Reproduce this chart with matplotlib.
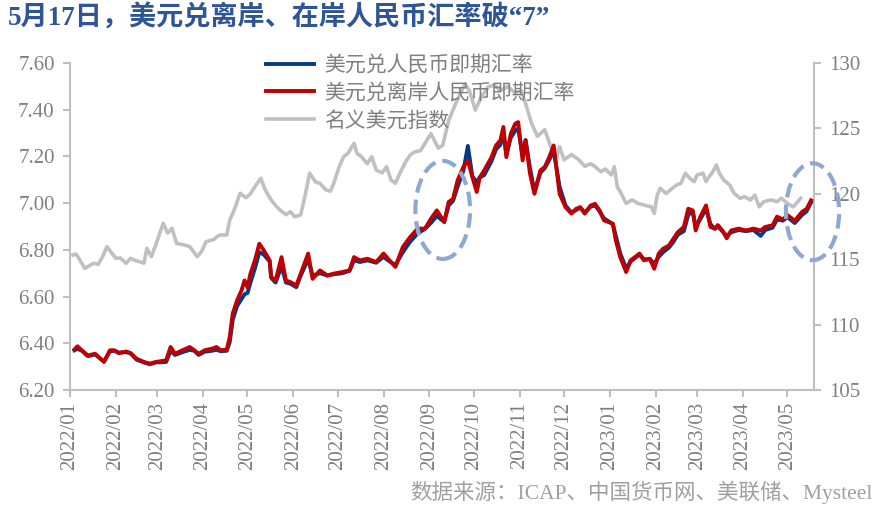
import matplotlib
matplotlib.use('Agg')
import matplotlib.pyplot as plt
import matplotlib.dates as mdates
from matplotlib.patches import Ellipse
import pandas as pd
import numpy as np

plt.rcParams['font.family'] = ['Liberation Serif', 'Noto Sans CJK SC']

# ---- data ----
cny_dates = ['2022-01-04', '2022-01-06', '2022-01-09', '2022-01-13', '2022-01-18', '2022-01-24',
             '2022-01-28', '2022-01-31', '2022-02-03', '2022-02-08', '2022-02-11', '2022-02-15',
             '2022-02-20', '2022-02-24', '2022-02-28', '2022-03-07', '2022-03-10', '2022-03-13',
             '2022-03-18', '2022-03-23', '2022-03-26', '2022-03-29', '2022-04-02', '2022-04-07',
             '2022-04-10', '2022-04-13', '2022-04-17', '2022-04-19', '2022-04-21', '2022-04-24',
             '2022-04-27', '2022-04-29', '2022-05-01', '2022-05-03', '2022-05-06', '2022-05-09',
             '2022-05-12', '2022-05-16', '2022-05-17', '2022-05-20', '2022-05-24', '2022-05-27',
             '2022-05-30', '2022-06-03', '2022-06-06', '2022-06-11', '2022-06-14', '2022-06-19',
             '2022-06-24', '2022-06-28', '2022-07-04', '2022-07-09', '2022-07-12', '2022-07-16',
             '2022-07-21', '2022-07-27', '2022-08-01', '2022-08-04', '2022-08-09', '2022-08-14',
             '2022-08-19', '2022-08-24', '2022-08-29', '2022-09-02', '2022-09-06', '2022-09-11',
             '2022-09-14', '2022-09-17', '2022-09-20', '2022-09-24', '2022-09-27', '2022-09-30',
             '2022-10-03', '2022-10-05', '2022-10-08', '2022-10-13', '2022-10-16', '2022-10-19',
             '2022-10-21', '2022-10-23', '2022-10-26', '2022-10-29', '2022-10-31', '2022-11-03',
             '2022-11-05', '2022-11-08', '2022-11-11', '2022-11-15', '2022-11-18', '2022-11-21',
             '2022-11-24', '2022-11-28', '2022-12-02', '2022-12-06', '2022-12-09', '2022-12-12',
             '2022-12-15', '2022-12-19', '2022-12-22', '2022-12-25', '2022-12-28', '2023-01-03',
             '2023-01-05', '2023-01-08', '2023-01-12', '2023-01-15', '2023-01-18', '2023-01-21',
             '2023-01-24', '2023-01-28', '2023-01-31', '2023-02-03', '2023-02-06', '2023-02-10',
             '2023-02-13', '2023-02-16', '2023-02-20', '2023-02-23', '2023-02-26', '2023-02-28',
             '2023-03-03', '2023-03-07', '2023-03-10', '2023-03-13', '2023-03-15', '2023-03-18',
             '2023-03-21', '2023-03-24', '2023-03-29', '2023-04-03', '2023-04-08', '2023-04-13',
             '2023-04-16', '2023-04-21', '2023-04-24', '2023-04-28', '2023-05-01', '2023-05-06',
             '2023-05-11', '2023-05-14', '2023-05-17']

# 美元兑离岸人民币 (red)
cnh_rate = [6.373, 6.387, 6.370, 6.348, 6.355, 6.320,
            6.370, 6.370, 6.358, 6.365, 6.358, 6.334,
            6.320, 6.313, 6.320, 6.327, 6.384, 6.355,
            6.370, 6.384, 6.370, 6.355, 6.370, 6.377,
            6.384, 6.370, 6.373, 6.427, 6.527, 6.584,
            6.627, 6.669, 6.640, 6.698, 6.755, 6.826,
            6.798, 6.755, 6.684, 6.669, 6.769, 6.669,
            6.662, 6.648, 6.698, 6.784, 6.676, 6.712,
            6.690, 6.698, 6.705, 6.712, 6.769, 6.755,
            6.762, 6.748, 6.784, 6.762, 6.727, 6.812,
            6.855, 6.891, 6.891, 6.933, 6.969, 6.919,
            7.005, 7.019, 7.097, 7.155, 7.183, 7.112,
            7.048, 7.110, 7.140, 7.197, 7.247, 7.269,
            7.326, 7.197, 7.297, 7.340, 7.347, 7.183,
            7.269, 7.126, 7.040, 7.140, 7.155, 7.197,
            7.247, 7.040, 6.983, 6.955, 6.975, 6.983,
            6.955, 6.990, 6.997, 6.969, 6.926, 6.912,
            6.841, 6.769, 6.705, 6.755, 6.769, 6.784,
            6.755, 6.762, 6.719, 6.784, 6.805, 6.819,
            6.848, 6.876, 6.898, 6.976, 6.969, 6.883,
            6.940, 6.990, 6.898, 6.891, 6.906, 6.883,
            6.850, 6.883, 6.891, 6.883, 6.891, 6.883,
            6.898, 6.905, 6.942, 6.930, 6.949, 6.925,
            6.963, 6.975, 7.012]

# 美元兑人民币即期 (blue)
cny_rate = [6.370, 6.376, 6.368, 6.345, 6.352, 6.322,
            6.366, 6.368, 6.360, 6.362, 6.356, 6.330,
            6.318, 6.310, 6.318, 6.320, 6.368, 6.350,
            6.362, 6.372, 6.368, 6.350, 6.364, 6.368,
            6.372, 6.366, 6.368, 6.405, 6.500, 6.560,
            6.590, 6.610, 6.615, 6.660, 6.720, 6.790,
            6.780, 6.750, 6.680, 6.660, 6.730, 6.660,
            6.655, 6.640, 6.690, 6.760, 6.690, 6.700,
            6.690, 6.695, 6.700, 6.710, 6.755, 6.748,
            6.755, 6.745, 6.770, 6.755, 6.735, 6.790,
            6.835, 6.870, 6.890, 6.915, 6.945, 6.920,
            6.990, 7.010, 7.070, 7.140, 7.245, 7.115,
            7.090, 7.110, 7.120, 7.180, 7.230, 7.250,
            7.300, 7.210, 7.280, 7.310, 7.320, 7.200,
            7.270, 7.150, 7.050, 7.130, 7.150, 7.185,
            7.225, 7.070, 6.990, 6.960, 6.970, 6.980,
            6.960, 6.985, 6.990, 6.965, 6.935, 6.910,
            6.860, 6.785, 6.720, 6.750, 6.765, 6.780,
            6.760, 6.760, 6.740, 6.770, 6.790, 6.810,
            6.835, 6.865, 6.880, 6.950, 6.965, 6.900,
            6.930, 6.975, 6.910, 6.890, 6.900, 6.880,
            6.860, 6.875, 6.885, 6.880, 6.885, 6.860,
            6.885, 6.895, 6.930, 6.925, 6.940, 6.915,
            6.950, 6.965, 7.003]

# 名义美元指数 (grey, right axis)
usd_dates = ['2022-01-03', '2022-01-05', '2022-01-07', '2022-01-11', '2022-01-14', '2022-01-17',
             '2022-01-20', '2022-01-23', '2022-01-26', '2022-01-29', '2022-02-01', '2022-02-04',
             '2022-02-08', '2022-02-11', '2022-02-13', '2022-02-17', '2022-02-20', '2022-02-22',
             '2022-02-25', '2022-02-28', '2022-03-03', '2022-03-05', '2022-03-08', '2022-03-11',
             '2022-03-14', '2022-03-19', '2022-03-23', '2022-03-28', '2022-03-31', '2022-04-03',
             '2022-04-08', '2022-04-12', '2022-04-17', '2022-04-19', '2022-04-22', '2022-04-24',
             '2022-04-26', '2022-04-30', '2022-05-03', '2022-05-06', '2022-05-10', '2022-05-13',
             '2022-05-17', '2022-05-20', '2022-05-23', '2022-05-27', '2022-05-30', '2022-06-02',
             '2022-06-06', '2022-06-09', '2022-06-12', '2022-06-16', '2022-06-19', '2022-06-23',
             '2022-06-26', '2022-06-28', '2022-07-02', '2022-07-05', '2022-07-08', '2022-07-12',
             '2022-07-14', '2022-07-17', '2022-07-21', '2022-07-24', '2022-07-27', '2022-07-31',
             '2022-08-03', '2022-08-06', '2022-08-09', '2022-08-12', '2022-08-16', '2022-08-19',
             '2022-08-22', '2022-08-26', '2022-08-29', '2022-09-02', '2022-09-07', '2022-09-10',
             '2022-09-14', '2022-09-18', '2022-09-22', '2022-09-25', '2022-09-28', '2022-10-02',
             '2022-10-06', '2022-10-11', '2022-10-15', '2022-10-19', '2022-10-24', '2022-10-29',
             '2022-11-02', '2022-11-05', '2022-11-09', '2022-11-13', '2022-11-18', '2022-11-22',
             '2022-11-26', '2022-11-28', '2022-12-01', '2022-12-06', '2022-12-11', '2022-12-15',
             '2022-12-19', '2022-12-22', '2022-12-26', '2022-12-29', '2023-01-02', '2023-01-04',
             '2023-01-06', '2023-01-08', '2023-01-12', '2023-01-16', '2023-01-20', '2023-01-24',
             '2023-01-29', '2023-01-31', '2023-02-02', '2023-02-04', '2023-02-08', '2023-02-11',
             '2023-02-15', '2023-02-18', '2023-02-21', '2023-02-24', '2023-02-27', '2023-03-01',
             '2023-03-05', '2023-03-07', '2023-03-09', '2023-03-11', '2023-03-14', '2023-03-16',
             '2023-03-19', '2023-03-23', '2023-03-26', '2023-03-30', '2023-04-02', '2023-04-06',
             '2023-04-09', '2023-04-12', '2023-04-15', '2023-04-20', '2023-04-24', '2023-04-27',
             '2023-05-01', '2023-05-05', '2023-05-10']

usd_index = [115.32, 115.40, 115.07, 114.30, 114.50, 114.69,
             114.60, 115.19, 115.96, 115.50, 115.07, 115.10,
             114.69, 115.07, 114.94, 114.81, 114.70, 115.83,
             115.20, 116.09, 117.10, 117.74, 117.00, 117.36,
             116.21, 116.10, 115.96, 115.19, 115.60, 116.34,
             116.50, 116.85, 116.85, 118.00, 118.76, 119.40,
             120.04, 119.70, 120.00, 120.54, 121.18, 120.30,
             119.53, 119.10, 118.76, 118.40, 118.63, 118.25,
             118.40, 119.90, 121.57, 120.90, 120.80, 120.30,
             120.20, 120.70, 122.07, 122.84, 123.10, 123.86,
             123.10, 122.84, 122.30, 122.84, 121.82, 121.60,
             122.07, 121.06, 120.80, 121.57, 122.45, 122.97,
             123.20, 123.30, 123.86, 124.60, 123.50, 123.70,
             125.60, 126.70, 127.70, 128.40, 127.90, 126.40,
             127.40, 128.20, 128.30, 127.90, 128.20, 127.70,
             127.90, 126.90, 125.40, 124.40, 124.90, 123.60,
             122.80, 123.60, 122.60, 123.00, 122.60, 122.10,
             122.30, 122.07, 121.69, 121.90, 121.44, 122.07,
             120.54, 120.16, 119.27, 119.53, 119.27, 119.14,
             119.01, 118.50, 119.90, 120.42, 120.03, 120.30,
             120.67, 120.80, 121.57, 121.19, 120.93, 121.44,
             121.57, 120.93, 121.30, 121.57, 122.20, 121.57,
             121.06, 120.67, 120.04, 119.66, 119.78, 119.53,
             119.90, 119.01, 119.40, 119.53, 119.40, 119.66,
             119.27, 119.00, 119.66]

series_labels = ['美元兑人民币即期汇率', '美元兑离岸人民币即期汇率', '名义美元指数']
left_ticks = [6.20, 6.40, 6.60, 6.80, 7.00, 7.20, 7.40, 7.60]
right_ticks = [105, 110, 115, 120, 125, 130]

cny_x = pd.to_datetime(cny_dates)
usd_x = pd.to_datetime(usd_dates)

# ---- figure ----
fig = plt.figure(figsize=(8.78, 5.13), dpi=100)
ax = fig.add_axes([70 / 878, 1 - 390 / 513, 744 / 878, 327 / 513])
ax2 = ax.twinx()
ax.set_zorder(ax2.get_zorder() + 1)
ax.patch.set_visible(False)

grey_axis = '#BFBFBF'
grey_text = '#7F7F7F'

l_usd, = ax2.plot(usd_x, usd_index, color='#C0C0C0', lw=2.6, solid_joinstyle='round')
l_cny, = ax.plot(cny_x, cny_rate, color='#043A8A', lw=2.8, solid_joinstyle='round')
l_cnh, = ax.plot(cny_x, cnh_rate, color='#C00000', lw=2.8, solid_joinstyle='round')

ax.set_xlim(pd.Timestamp('2022-01-01'), pd.Timestamp('2023-05-19'))
ax.set_ylim(6.2, 7.6)
ax2.set_ylim(105, 130)
ax.set_yticks(left_ticks)
ax.set_yticklabels([f'{v:.2f}' for v in left_ticks])
ax2.set_yticks(right_ticks)

ax.xaxis.set_major_locator(mdates.MonthLocator())
ax.xaxis.set_major_formatter(mdates.DateFormatter('%Y/%m'))
for lbl in ax.get_xticklabels():
    lbl.set_rotation(90)

for s in ['top', 'right']:
    ax.spines[s].set_visible(False)
for s in ['top', 'left', 'bottom']:
    ax2.spines[s].set_visible(False)
for s in ['left', 'bottom']:
    ax.spines[s].set_color(grey_axis)
    ax.spines[s].set_linewidth(1.5)
ax2.spines['right'].set_color(grey_axis)
ax2.spines['right'].set_linewidth(1.5)

ax.tick_params(axis='both', direction='out', length=5, width=1.5, color=grey_axis,
               labelcolor=grey_text, labelsize=15)
ax.tick_params(axis='y', pad=6)
ax2.tick_params(axis='y', direction='out', length=5, width=1.5, color=grey_axis,
                labelcolor=grey_text, labelsize=15, pad=6)

# dashed ellipses marking the breaks of 7
ell_kw = dict(fill=False, edgecolor='#8EA9D1', lw=3, ls=(0, (3.5, 1.7)), clip_on=False, zorder=6)
ax.add_patch(Ellipse((mdates.date2num(pd.Timestamp('2022-09-10')), 6.971), 37, 0.42, **ell_kw))
ax.add_patch(Ellipse((mdates.date2num(pd.Timestamp('2023-05-18')), 6.963), 36, 0.415, **ell_kw))

ax.legend([l_cny, l_cnh, l_usd], series_labels, loc='upper left',
          bbox_to_anchor=(266 / 878, 1 - 56 / 513), bbox_transform=fig.transFigure,
          frameon=False, fontsize=15, labelcolor=grey_text, handlelength=2.3,
          handletextpad=0.5, labelspacing=0.38, borderpad=0, borderaxespad=0)

fig.text(8 / 878, 1 - 18 / 513, '5月17日，美元兑离岸、在岸人民币汇率破“7”',
         fontsize=19.5, fontweight='bold', color='#2E5597', va='center', ha='left')
fig.text(872 / 878, 1 - 492 / 513, '数据来源：ICAP、中国货币网、美联储、Mysteel',
         fontsize=15.5, color='#A0A0A0', va='center', ha='right')

fig.savefig('out.png', dpi=100)
